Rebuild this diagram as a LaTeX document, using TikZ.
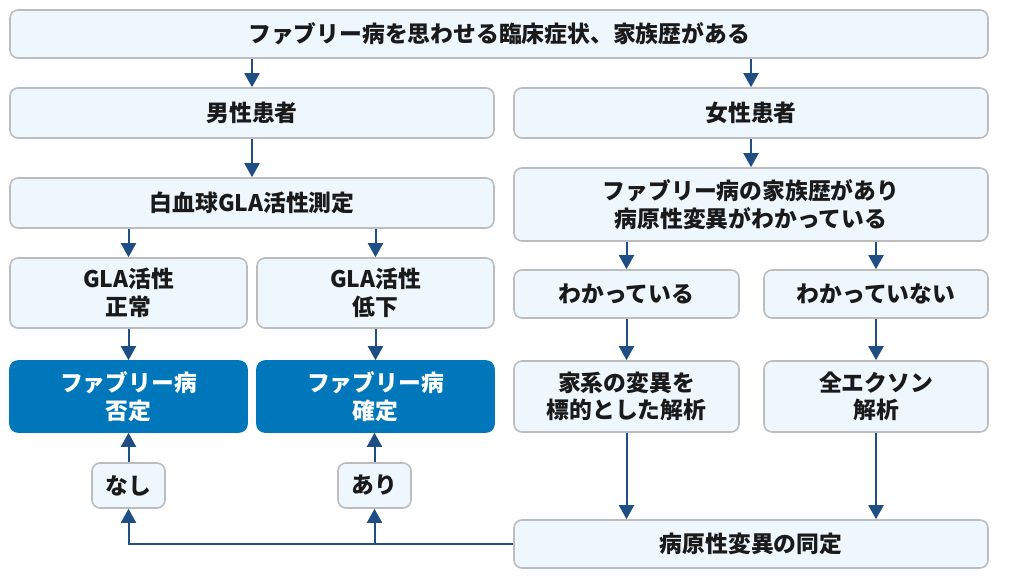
\documentclass[tikz,border=0pt]{standalone}
\usepackage{fontspec}
\setmainfont{Noto Sans CJK JP}
\usetikzlibrary{arrows.meta}
\definecolor{boxfill}{HTML}{EEF7FE}
\definecolor{boxline}{HTML}{BDBDBD}
\definecolor{darkfill}{HTML}{0077BB}
\definecolor{arrowc}{HTML}{1F4E85}
\definecolor{txt}{HTML}{1A1A1A}
\tikzset{
  box/.style={draw=boxline, line width=1.6pt, fill=boxfill, rounded corners=8pt,
    align=center, inner sep=0pt, text=txt,
    font=\fontsize{22.8}{27.5}\selectfont\bfseries},
  darkbox/.style={box, draw=darkfill, fill=darkfill, text=white},
  arr/.style={draw=arrowc, line width=2pt, -{Triangle[width=15pt,length=14pt]}},
  conn/.style={draw=arrowc, line width=2pt}
}
\begin{document}
\begin{tikzpicture}[x=1pt,y=-1pt]
\useasboundingbox (0,0) rectangle (1014,581);
\node[box, minimum width=978pt, minimum height=48pt] (top) at (499,34) {ファブリー病を思わせる臨床症状、家族歴がある};
\node[box, minimum width=484pt, minimum height=50pt] (male) at (252,113) {男性患者};
\node[box, minimum width=474pt, minimum height=50pt] (female) at (751,113) {女性患者};
\node[box, minimum width=484pt, minimum height=50pt] (wbc) at (252,203) {白血球GLA活性測定};
\node[box, minimum width=474pt, minimum height=73pt] (fam) at (751,204.5) {ファブリー病の家族歴があり\\病原性変異がわかっている};
\node[box, minimum width=237pt, minimum height=70pt] (norm) at (128.5,293) {GLA活性\\正常};
\node[box, minimum width=237pt, minimum height=70pt] (low) at (375.5,293) {GLA活性\\低下};
\node[box, minimum width=225pt, minimum height=48pt] (known) at (626.5,294) {わかっている};
\node[box, minimum width=224pt, minimum height=48pt] (unknown) at (876,294) {わかっていない};
\node[darkbox, minimum width=237pt, minimum height=71pt] (neg) at (128.5,396.5) {ファブリー病\\否定};
\node[darkbox, minimum width=237pt, minimum height=71pt] (pos) at (375.5,396.5) {ファブリー病\\確定};
\node[box, minimum width=225pt, minimum height=71pt] (target) at (626.5,396.5) {家系の変異を\\標的とした解析};
\node[box, minimum width=224pt, minimum height=71pt] (wes) at (876,396.5) {全エクソン\\解析};
\node[box, minimum width=73pt, minimum height=45pt] (none) at (128.5,485.5) {なし};
\node[box, minimum width=73pt, minimum height=45pt] (ari) at (374.5,485.5) {あり};
\node[box, minimum width=474pt, minimum height=48pt] (ident) at (751,544) {病原性変異の同定};

\draw[arr] (male.north |- top.south) -- (male.north);
\draw[arr] (female.north |- top.south) -- (female.north);
\draw[arr] (male.south) -- (wbc.north);
\draw[arr] (female.south) -- (fam.north);
\draw[arr] (norm.north |- wbc.south) -- (norm.north);
\draw[arr] (low.north |- wbc.south) -- (low.north);
\draw[arr] (known.north |- fam.south) -- (known.north);
\draw[arr] (unknown.north |- fam.south) -- (unknown.north);
\draw[arr] (norm.south) -- (neg.north);
\draw[arr] (low.south) -- (pos.north);
\draw[arr] (known.south) -- (target.north);
\draw[arr] (unknown.south) -- (wes.north);
\draw[arr] (target.south) -- (target.south |- ident.north);
\draw[arr] (wes.south) -- (wes.south |- ident.north);
\draw[arr] (ident.west) -| (none.south);
\draw[arr] (ari.south |- ident.west) -- (ari.south);
\draw[arr] (none.north) -- (neg.south);
\draw[arr] (ari.north) -- (ari.north |- pos.south);
\end{tikzpicture}
\end{document}
